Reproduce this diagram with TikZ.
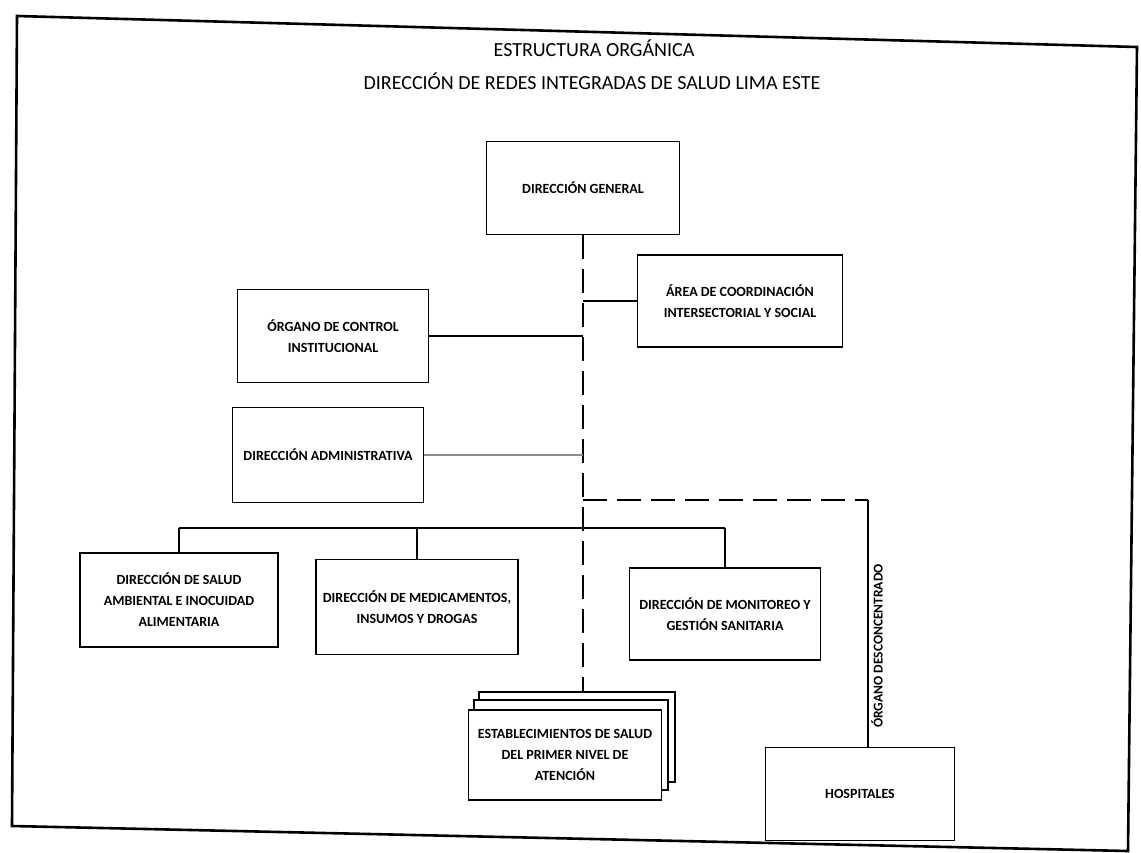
\documentclass[tikz,border=0pt]{standalone}
\usepackage{fontspec}
\setmainfont{Carlito}
\begin{document}
\begin{tikzpicture}[x=1pt, y=-1pt,
		unidad/.style={draw, line width=1.4pt, fill=white, align=center, inner sep=2pt, font=\bfseries\fontsize{14}{21}\selectfont},
		linea/.style={line width=1.1pt},
		tronco/.style={line width=1.2pt, dash pattern=on 24pt off 10pt}]
	\useasboundingbox (0,0) rectangle (1141,852);
	% marco
	\coordinate (m1) at (17,16);
	\coordinate (m2) at (1137,47);
	\coordinate (m3) at (1128,851);
	\coordinate (m4) at (12,826);
	\draw[line width=2.6pt] (m1) -- (m2) -- (m3) -- (m4) -- cycle;
	% titulo
	\node[font=\fontsize{20}{24}\selectfont] (tit1) at (594,48) {ESTRUCTURA ORGÁNICA};
	\node[font=\fontsize{20}{24}\selectfont] (tit2) at (592,81) {DIRECCIÓN DE REDES INTEGRADAS DE SALUD LIMA ESTE};
	% organos
	\node[unidad, minimum width=193pt, minimum height=93pt] (dg) at (583,188) {DIRECCIÓN GENERAL};
	\node[unidad, minimum width=205pt, minimum height=92pt] (area) at (740,301) {ÁREA DE COORDINACIÓN\\INTERSECTORIAL Y SOCIAL};
	\node[unidad, minimum width=191pt, minimum height=93pt] (oci) at (333,336) {ÓRGANO DE CONTROL\\INSTITUCIONAL};
	\node[unidad, minimum width=191pt, minimum height=95pt] (da) at (328,455) {DIRECCIÓN ADMINISTRATIVA};
	\node[unidad, minimum width=198pt, minimum height=94pt] (sa) at (179,600) {DIRECCIÓN DE SALUD\\AMBIENTAL E INOCUIDAD\\ALIMENTARIA};
	\node[unidad, minimum width=202pt, minimum height=95pt] (med) at (417,607) {DIRECCIÓN DE MEDICAMENTOS,\\INSUMOS Y DROGAS};
	\node[unidad, minimum width=191pt, minimum height=92pt] (mon) at (725,614) {DIRECCIÓN DE MONITOREO Y\\GESTIÓN SANITARIA};
	\node[unidad, minimum width=196pt, minimum height=90pt] (est2) at (577,737) {};
	\node[unidad, minimum width=194pt, minimum height=90pt] (est1) at (571,745) {};
	\node[unidad, minimum width=193pt, minimum height=90pt] (est) at (565,755) {ESTABLECIMIENTOS DE SALUD\\DEL PRIMER NIVEL DE\\ATENCIÓN};
	\node[unidad, minimum width=189pt, minimum height=93pt] (hosp) at (860,794) {HOSPITALES};
	% conectores
	\coordinate (bus) at (0,528);
	\coordinate (hb) at (868,500);
	\draw[tronco] (dg.south) -- (dg.south |- est2.north);
	\draw[linea] (oci.east) -- (oci.east -| dg.south);
	\draw[linea, black!45] (da.east) -- (da.east -| dg.south);
	\draw[linea] (area.west) -- (area.west -| dg.south);
	\draw[line width=1.8pt] (sa.north |- bus) -- (mon.north |- bus);
	\draw[linea] (sa.north |- bus) -- (sa.north);
	\draw[linea] (med.north |- bus) -- (med.north);
	\draw[linea] (mon.north |- bus) -- (mon.north);
	\draw[tronco] (dg.south |- hb) -- (hb);
	\draw[linea] (hb) -- (hb |- hosp.north);
	\node[rotate=90, font=\bfseries\fontsize{13.5}{15}\selectfont] (desc) at (877,646) {ÓRGANO DESCONCENTRADO};
\end{tikzpicture}
\end{document}
